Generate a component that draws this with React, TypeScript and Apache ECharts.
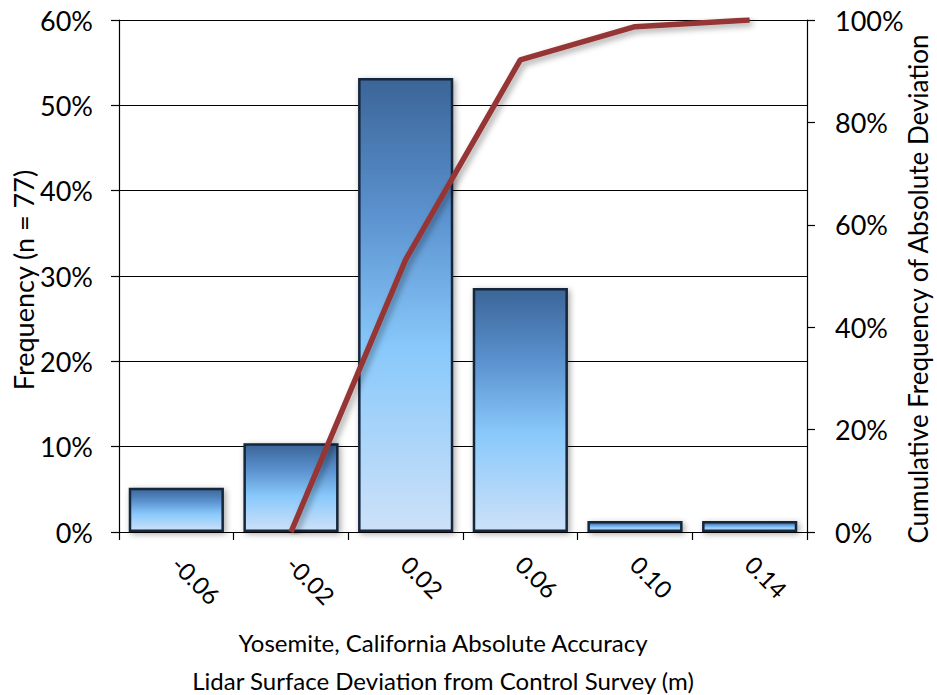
import React, { useEffect, useRef } from "react";
import * as echarts from "echarts";

// Bin centres of the deviation histogram (m)
const categories = ["-0.06", "-0.02", "0.02", "0.06", "0.10", "0.14"];
// Share of the 77 check points falling in each bin (%)
const frequencyPct = [5.2, 10.4, 53.2, 28.6, 1.3, 1.3];
// Cumulative frequency of absolute deviation (%)
const cumulativePct: (number | null)[] = [null, 0, 53.2, 92.2, 98.7, 100];
// Axis ranges
const leftMax = 60;
const leftStep = 10;
const rightMax = 100;
const rightStep = 20;

const titleLines = [
  "Yosemite, California Absolute Accuracy",
  "Lidar Surface Deviation from Control Survey (m)",
];
const leftTitle = "Frequency (n = 77)";
const rightTitle = "Cumulative Frequency of Absolute Deviation";

const FONT = "Lato, 'Open Sans', sans-serif";

export default function App() {
  const ref = useRef<HTMLDivElement>(null);

  useEffect(() => {
    if (!ref.current) return;
    const chart = echarts.init(ref.current, undefined, { renderer: "svg" });
    const axisLine = { show: true, lineStyle: { color: "#000", width: 1.2 } };
    const axisTick = { show: true, length: 8, lineStyle: { color: "#000", width: 1.2 } };
    chart.setOption({
      animation: false,
      backgroundColor: "#ffffff",
      textStyle: { fontFamily: FONT, color: "#000" },
      grid: {
        left: 119,
        right: 130,
        top: 20,
        bottom: 163,
        containLabel: false,
        outerBoundsMode: "none",
      },
      xAxis: {
        type: "category",
        data: categories,
        boundaryGap: true,
        axisLine,
        axisTick,
        axisLabel: {
          rotate: -45,
          margin: 28,
          fontSize: 24,
          fontFamily: FONT,
          color: "#000",
        },
      },
      yAxis: [
        {
          type: "value",
          min: 0,
          max: leftMax,
          interval: leftStep,
          axisLine,
          axisTick,
          axisLabel: {
            margin: 26,
            fontSize: 27,
            fontFamily: FONT,
            color: "#000",
            formatter: (v: number) => `${v}%`,
          },
          splitLine: { show: true, lineStyle: { color: "#000", width: 1.2 } },
        },
        {
          type: "value",
          min: 0,
          max: rightMax,
          interval: rightStep,
          position: "right",
          axisLine,
          axisTick,
          axisLabel: {
            margin: 28,
            fontSize: 27,
            fontFamily: FONT,
            color: "#000",
            formatter: (v: number) => `${v}%`,
          },
          splitLine: { show: false },
        },
      ],
      graphic: [
        ...titleLines.map((t, i) => ({
          type: "text",
          x: 443,
          y: 642 + i * 38,
          style: {
            text: t,
            fontSize: 24,
            fontFamily: FONT,
            fill: "#000",
            textAlign: "center",
            textVerticalAlign: "middle",
          },
        })),
        {
          type: "text",
          x: 23,
          y: 280,
          rotation: Math.PI / 2,
          style: {
            text: leftTitle,
            fontSize: 27,
            fontFamily: FONT,
            fill: "#000",
            textAlign: "center",
            textVerticalAlign: "middle",
          },
        },
        {
          type: "text",
          x: 918,
          y: 289,
          rotation: Math.PI / 2,
          style: {
            text: rightTitle,
            fontSize: 26,
            fontFamily: FONT,
            fill: "#000",
            textAlign: "center",
            textVerticalAlign: "middle",
          },
        },
      ],
      series: [
        {
          type: "bar",
          yAxisIndex: 0,
          data: frequencyPct,
          barCategoryGap: "17%",
          itemStyle: {
            color: new echarts.graphic.LinearGradient(0, 0, 0, 1, [
              { offset: 0, color: "#3b6598" },
              { offset: 0.3, color: "#5b92cf" },
              { offset: 0.6, color: "#89c9fb" },
              { offset: 1, color: "#cde1f8" },
            ]),
            borderColor: "#14253a",
            borderWidth: 2.5,
            shadowBlur: 6,
            shadowColor: "rgba(0,0,0,0.35)",
            shadowOffsetX: 2,
            shadowOffsetY: 2,
          },
        },
        {
          type: "line",
          yAxisIndex: 1,
          data: cumulativePct,
          symbol: "none",
          lineStyle: {
            color: "#963634",
            width: 5.5,
            shadowBlur: 6,
            shadowColor: "rgba(0,0,0,0.35)",
            shadowOffsetX: 3,
            shadowOffsetY: 3,
          },
          z: 5,
        },
      ],
    });
    return () => chart.dispose();
  }, []);

  return <div ref={ref} style={{ width: 937, height: 695, position: "absolute", left: 0, top: 0 }} />;
}
